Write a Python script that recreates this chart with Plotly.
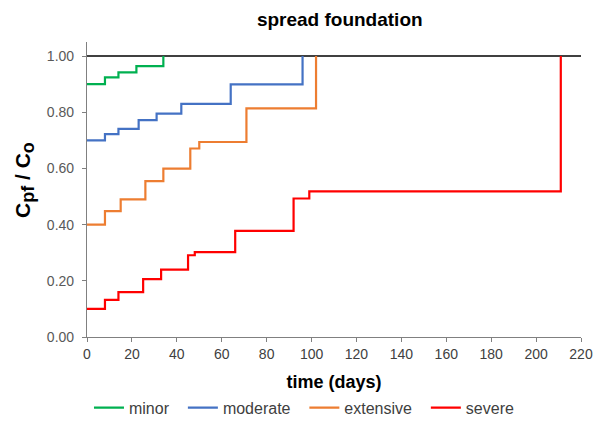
import plotly.graph_objects as go

minor_t = [0, 8, 14, 22, 34]
minor_v = [0.90, 0.924, 0.942, 0.964, 1.0]
moderate_t = [0, 8, 14, 23, 31, 42, 64, 96]
moderate_v = [0.70, 0.722, 0.741, 0.772, 0.795, 0.830, 0.899, 1.0]
extensive_t = [0, 8, 15, 26, 34, 46, 50, 71, 102]
extensive_v = [0.40, 0.448, 0.490, 0.555, 0.599, 0.671, 0.694, 0.814, 1.0]
severe_t = [0, 8, 14, 25, 33, 45, 48, 66, 92, 99, 211]
severe_v = [0.10, 0.132, 0.160, 0.206, 0.240, 0.291, 0.302, 0.378, 0.493, 0.518, 1.0]
ref_t = [0, 220]
ref_v = [1.0, 1.0]
x_ticks = list(range(0, 221, 20))
y_ticks = [0, 0.2, 0.4, 0.6, 0.8, 1.0]

series = [
    ("minor", minor_t, minor_v, "#00B050"),
    ("moderate", moderate_t, moderate_v, "#4472C4"),
    ("extensive", extensive_t, extensive_v, "#ED7D31"),
    ("severe", severe_t, severe_v, "#FF0000"),
]

fig = go.Figure()
fig.add_trace(go.Scatter(x=ref_t, y=ref_v, mode="lines", line=dict(color="black", width=1.4),
                         showlegend=False, hoverinfo="skip"))
for name, t, v, c in series:
    fig.add_trace(go.Scatter(x=t, y=v, mode="lines", name=name + "&nbsp;&nbsp;",
                             line=dict(color=c, width=2.2, shape="hv")))

font = "Liberation Sans, Arial, sans-serif"
ytitle = ("<b>C<sub><span style='font-size:18px'>pf</span></sub> / "
          "C<sub><span style='font-size:18px'>o</span></sub></b>")
fig.add_annotation(text=ytitle, textangle=-90, xref="paper", yref="paper",
                   x=-(87 - 24) / 494, y=(337 - 180) / 295, xanchor="center", yanchor="middle",
                   showarrow=False, font=dict(size=21, color="black", family="Liberation Sans, Arial, sans-serif"))
fig.update_layout(
    width=594, height=425,
    margin=dict(l=87, r=13, t=42, b=88, autoexpand=False),
    paper_bgcolor="white", plot_bgcolor="white",
    font=dict(family=font, color="#595959", size=14),
    title=dict(text="<b>spread foundation</b>", x=0.572, xref="container", xanchor="center",
               y=0.955, yref="container", yanchor="middle", font=dict(size=19, color="black", family=font)),
    showlegend=True,
    legend=dict(orientation="h", x=0.004, xanchor="left", xref="paper", y=-0.24, yanchor="middle",
                font=dict(size=16, color="#404040"), itemwidth=30, tracegroupgap=0),
    xaxis=dict(range=[0, 220], tickvals=x_ticks, showgrid=False, zeroline=False, automargin=False,
               showline=True, linecolor="#808080", linewidth=1.2, ticks="outside", ticklen=4,
               tickcolor="#808080", tickfont=dict(size=14, color="#404040"),
               title=dict(text="<b>time (days)</b>", font=dict(size=18, color="black"), standoff=14)),
    yaxis=dict(range=[0, 1.05], tickvals=y_ticks, tickformat=".2f", showgrid=False, automargin=False,
               zeroline=False, showline=True, linecolor="#808080", linewidth=1.2, ticks="outside",
               ticklen=4, tickcolor="#808080", tickfont=dict(size=14, color="#595959"),
               ticklabelstandoff=5),
)

fig.write_html("out.html", post_script="document.body.style.margin='0px';",
               config={"displayModeBar": False})
